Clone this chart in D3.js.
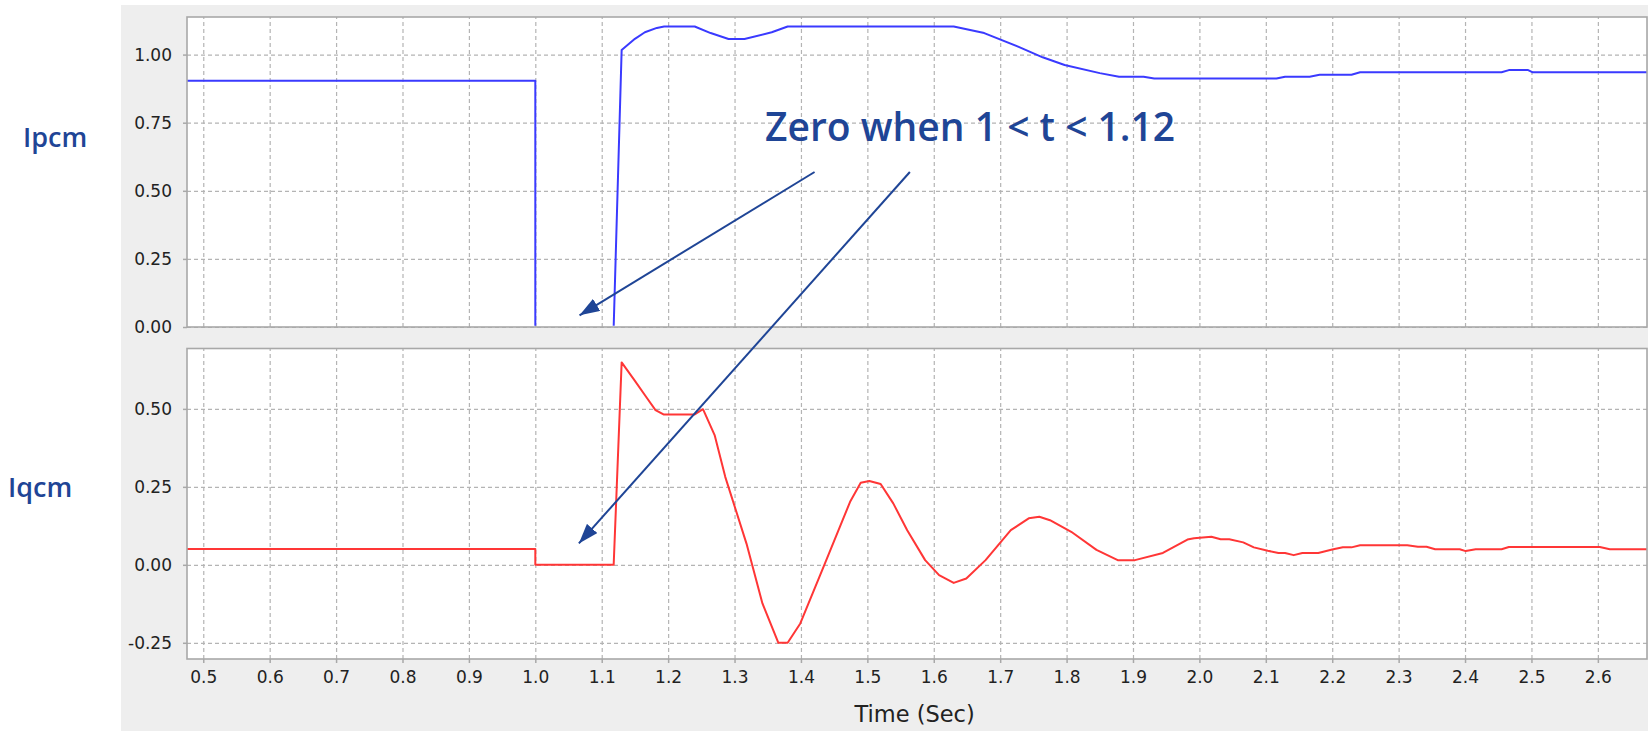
<!DOCTYPE html>
<html><head><meta charset="utf-8">
<script src="https://cdn.jsdelivr.net/npm/d3@7"></script>
<style>body{margin:0;background:#fff;overflow:hidden}</style>
</head><body>
<svg id="c" width="1648" height="731"></svg>
<script>
// ---- data ----
const ipcmT = [0.4755, 1.0, 1.0, 1.118, 1.130, 1.150, 1.165, 1.183, 1.194, 1.240, 1.264, 1.291, 1.315, 1.356, 1.380, 1.630, 1.676, 1.727, 1.764, 1.797, 1.850, 1.879, 1.916, 1.932, 2.116, 2.129, 2.166, 2.181, 2.229, 2.242, 2.455, 2.466, 2.495, 2.502, 2.674];
const ipcmV = [0.904, 0.904, 0.0, 0.0, 1.017, 1.058, 1.082, 1.098, 1.103, 1.103, 1.079, 1.057, 1.057, 1.082, 1.103, 1.103, 1.079, 1.029, 0.990, 0.962, 0.932, 0.919, 0.919, 0.912, 0.912, 0.919, 0.919, 0.926, 0.926, 0.935, 0.935, 0.943, 0.943, 0.935, 0.935];

const iqcmT = [0.4755, 1.0, 1.0, 1.118, 1.130, 1.150, 1.167, 1.181, 1.193, 1.240, 1.2525, 1.270, 1.286, 1.318, 1.342, 1.366, 1.380, 1.399, 1.436, 1.474, 1.490, 1.503, 1.520, 1.539, 1.560, 1.587, 1.608, 1.630, 1.649, 1.678, 1.716, 1.743, 1.759, 1.775, 1.807, 1.845, 1.877, 1.903, 1.945, 1.982, 1.992, 2.018, 2.032, 2.045, 2.066, 2.082, 2.103, 2.119, 2.129, 2.142, 2.155, 2.179, 2.200, 2.216, 2.229, 2.242, 2.313, 2.329, 2.342, 2.355, 2.392, 2.401, 2.416, 2.455, 2.466, 2.603, 2.618, 2.674];
const iqcmV = [0.051, 0.051, 0.0, 0.0, 0.649, 0.590, 0.538, 0.496, 0.482, 0.482, 0.499, 0.416, 0.282, 0.068, -0.124, -0.250, -0.250, -0.188, 0.004, 0.202, 0.263, 0.269, 0.259, 0.197, 0.111, 0.015, -0.033, -0.058, -0.044, 0.015, 0.111, 0.149, 0.154, 0.143, 0.106, 0.048, 0.015, 0.015, 0.038, 0.081, 0.085, 0.090, 0.082, 0.082, 0.072, 0.056, 0.045, 0.038, 0.038, 0.031, 0.038, 0.038, 0.049, 0.056, 0.056, 0.063, 0.063, 0.058, 0.058, 0.050, 0.050, 0.044, 0.050, 0.050, 0.057, 0.057, 0.050, 0.050];

const xTicks = [0.5, 0.6, 0.7, 0.8, 0.9, 1.0, 1.1, 1.2, 1.3, 1.4, 1.5, 1.6, 1.7, 1.8, 1.9, 2.0, 2.1, 2.2, 2.3, 2.4, 2.5, 2.6];
const ipcmTicks = [0.00, 0.25, 0.50, 0.75, 1.00];
const iqcmTicks = [-0.25, 0.00, 0.25, 0.50];
const xDomain = [0.4755, 2.674];
const ipcmDomain = [0, 1.138];
const iqcmDomain = [-0.302, 0.6936];
const xTitle = "Time (Sec)";
const seriesNames = ["Ipcm", "Iqcm"];
const annoText = "Zero when 1 < t < 1.12";
// annotation anchors in data coordinates: [t, value]
const annoTextPos = [1.346, 0.682];           // on Ipcm panel
const arrow1 = [[1.4205, 0.569], [1.0666, 0.043]]; // Ipcm panel -> Ipcm panel
const arrow2From = [1.564, 0.569];           // Ipcm panel
const arrow2To = [1.0656, 0.0686];           // Iqcm panel

// ---- layout ----
const W = 1648, H = 731;
const L = 187, R = 1647;
const p1 = {top: 17, bottom: 327};
const p2 = {top: 348.5, bottom: 659};
const gridColor = "#b4b4b4", frameColor = "#a8a8a8", annoColor = "#1f4596";
const tickFont = "'DejaVu Sans', sans-serif";

const svg = d3.select("#c");
svg.append("rect").attr("x", 0).attr("y", 0).attr("width", W).attr("height", H).attr("fill", "#fff");
svg.append("rect").attr("x", 121).attr("y", 5).attr("width", W - 121).attr("height", H - 5).attr("fill", "#eeeeee");

const x = d3.scaleLinear().domain(xDomain).range([L, R]);
const y1 = d3.scaleLinear().domain(ipcmDomain).range([p1.bottom, p1.top]);
const y2 = d3.scaleLinear().domain(iqcmDomain).range([p2.bottom, p2.top]);

function panel(y, p, ticks, showX) {
  const g = svg.append("g");
  g.append("rect").attr("x", L).attr("y", p.top).attr("width", R - L).attr("height", p.bottom - p.top).attr("fill", "#fff");
  const gx = g.append("g").attr("transform", `translate(0,${p.bottom})`)
    .call(d3.axisBottom(x).tickValues(xTicks).tickSize(-(p.bottom - p.top)).tickFormat(""));
  gx.select(".domain").remove();
  gx.selectAll("line").attr("stroke", gridColor).attr("stroke-dasharray", "4,3").attr("stroke-width", 1.2);
  const gy = g.append("g").attr("transform", `translate(${L},0)`)
    .call(d3.axisLeft(y).tickValues(ticks).tickSize(-(R - L)).tickFormat(""));
  gy.select(".domain").remove();
  gy.selectAll("line").attr("stroke", gridColor).attr("stroke-dasharray", "4,3").attr("stroke-width", 1.2);
  const ay = g.append("g").attr("transform", `translate(${L},0)`)
    .call(d3.axisLeft(y).tickValues(ticks).tickSize(4).tickPadding(11).tickFormat(d => d.toFixed(2)));
  ay.select(".domain").remove();
  ay.selectAll("line").attr("stroke", frameColor).attr("stroke-width", 1.5);
  ay.selectAll("text").attr("font-family", tickFont).attr("font-size", 17).attr("fill", "#222");
  if (showX) {
    const ax = g.append("g").attr("transform", `translate(0,${p.bottom})`)
      .call(d3.axisBottom(x).tickValues(xTicks).tickSize(4).tickPadding(8).tickFormat(d => d.toFixed(1)));
    ax.select(".domain").remove();
    ax.selectAll("line").attr("stroke", frameColor).attr("stroke-width", 1.5);
    ax.selectAll("text").attr("font-family", tickFont).attr("font-size", 17).attr("fill", "#222");
  }
  return g;
}
function frame(p) {
  svg.append("rect").attr("x", L).attr("y", p.top).attr("width", R - L).attr("height", p.bottom - p.top)
    .attr("fill", "none").attr("stroke", frameColor).attr("stroke-width", 1.6);
}

panel(y1, p1, ipcmTicks, false);
panel(y2, p2, iqcmTicks, true);

svg.append("clipPath").attr("id", "cp1").append("rect")
  .attr("x", L).attr("y", p1.top).attr("width", R - L).attr("height", p1.bottom - p1.top - 1.2);
svg.append("clipPath").attr("id", "cp2").append("rect")
  .attr("x", L).attr("y", p2.top).attr("width", R - L).attr("height", p2.bottom - p2.top);

const ipcm = ipcmT.map((t, i) => [t, ipcmV[i]]);
const iqcm = iqcmT.map((t, i) => [t, iqcmV[i]]);

svg.append("path").datum(ipcm).attr("clip-path", "url(#cp1)")
  .attr("d", d3.line().x(d => x(d[0])).y(d => y1(d[1])))
  .attr("fill", "none").attr("stroke", "#3a3aff").attr("stroke-width", 2).attr("stroke-linejoin", "round");
svg.append("path").datum(iqcm).attr("clip-path", "url(#cp2)")
  .attr("d", d3.line().x(d => x(d[0])).y(d => y2(d[1])))
  .attr("fill", "none").attr("stroke", "#ff3636").attr("stroke-width", 2).attr("stroke-linejoin", "round");

frame(p1);
frame(p2);

// x title
svg.append("text").attr("x", (x(1.5) + x(1.6)) / 2 + 14).attr("y", 722)
  .attr("text-anchor", "middle").attr("font-family", tickFont).attr("font-size", 22.5).attr("fill", "#222")
  .text(xTitle);

// series labels
svg.append("text").attr("x", 23).attr("y", 147).attr("font-family", "'Open Sans', sans-serif")
  .attr("font-weight", 600).attr("font-size", 27).attr("fill", annoColor).text(seriesNames[0]);
svg.append("text").attr("x", 8).attr("y", 497).attr("font-family", "'Open Sans', sans-serif")
  .attr("font-weight", 600).attr("font-size", 27).attr("fill", annoColor).text(seriesNames[1]);

// annotation
svg.append("defs").append("marker").attr("id", "ah").attr("viewBox", "0 0 20 14")
  .attr("refX", 20).attr("refY", 7).attr("markerWidth", 20).attr("markerHeight", 14)
  .attr("markerUnits", "userSpaceOnUse").attr("orient", "auto")
  .append("path").attr("d", "M0,0 L20,7 L0,14 Z").attr("fill", annoColor);

svg.append("line")
  .attr("x1", x(arrow1[0][0])).attr("y1", y1(arrow1[0][1]))
  .attr("x2", x(arrow1[1][0])).attr("y2", y1(arrow1[1][1]))
  .attr("stroke", annoColor).attr("stroke-width", 2).attr("marker-end", "url(#ah)");
svg.append("line")
  .attr("x1", x(arrow2From[0])).attr("y1", y1(arrow2From[1]))
  .attr("x2", x(arrow2To[0])).attr("y2", y2(arrow2To[1]))
  .attr("stroke", annoColor).attr("stroke-width", 2).attr("marker-end", "url(#ah)");

svg.append("text").attr("x", x(annoTextPos[0])).attr("y", y1(annoTextPos[1]))
  .attr("font-family", "'Open Sans', sans-serif").attr("font-weight", 600).attr("font-size", 39)
  .attr("fill", annoColor).text(annoText);
</script>
</body></html>
